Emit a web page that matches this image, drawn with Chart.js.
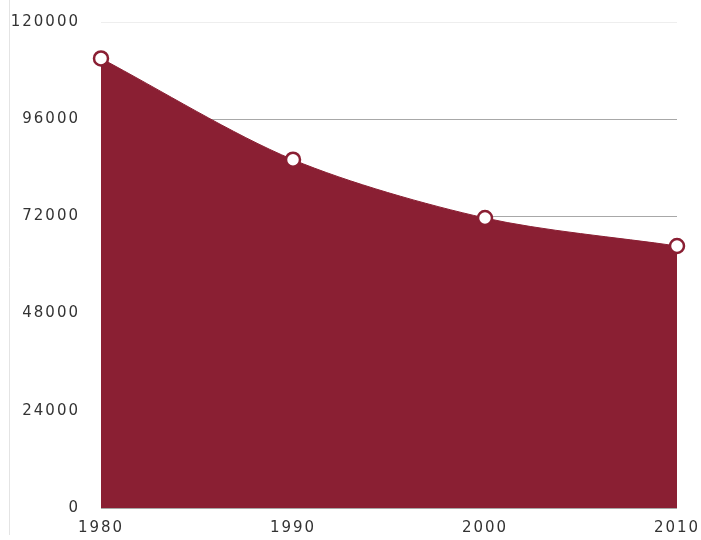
<!DOCTYPE html>
<html>
<head>
<meta charset="utf-8">
<script src="https://cdn.jsdelivr.net/npm/chart.js@4/dist/chart.umd.min.js"></script>
<style>
  html, body { margin: 0; padding: 0; background: #ffffff; }
  #wrap { width: 701px; height: 540px; position: relative; }
</style>
</head>
<body>
<div id="wrap"><canvas id="chart" width="701" height="540"></canvas></div>
<script>
// Population by census year
const years = ['1980', '1990', '2000', '2010'];
const population = [111000, 86000, 71600, 64700];
const yTicks = [0, 24000, 48000, 72000, 96000, 120000];

const fillColor = '#8a1f33';

// wider letter spacing for all axis text
const spacing = {
  id: 'spacing',
  beforeUpdate(chart) { chart.ctx.letterSpacing = '2px'; },
  beforeDraw(chart) { chart.ctx.letterSpacing = '2px'; }
};

// thin vertical rule along the left edge of the figure
const leftRule = {
  id: 'leftRule',
  beforeDraw(chart) {
    const ctx = chart.ctx;
    ctx.save();
    ctx.strokeStyle = '#e4e4e4';
    ctx.lineWidth = 1;
    ctx.beginPath();
    ctx.moveTo(9.5, 0);
    ctx.lineTo(9.5, 535);
    ctx.stroke();
    ctx.restore();
  }
};

new Chart(document.getElementById('chart'), {
  type: 'line',
  data: {
    labels: years,
    datasets: [{
      data: population,
      fill: 'origin',
      backgroundColor: fillColor,
      borderColor: fillColor,
      borderWidth: 1,
      tension: 0.3,
      pointRadius: 7,
      pointBorderWidth: 2.5,
      pointBackgroundColor: '#ffffff',
      pointBorderColor: fillColor
    }]
  },
  options: {
    responsive: false,
    animation: false,
    events: [],
    layout: { padding: { top: 22, right: 24, left: 0, bottom: 0 } },
    plugins: { legend: { display: false }, tooltip: { enabled: false } },
    scales: {
      x: {
        offset: false,
        grid: { display: false, drawTicks: false },
        border: { display: false },
        ticks: {
          padding: 11,
          color: '#333333',
          font: { family: 'DejaVu Sans', size: 15 },
          maxRotation: 0
        },
        afterFit(scale) {
          scale.height = 32;
          scale.paddingLeft = 0;
          scale.paddingRight = 0;
        }
      },
      y: {
        min: 0,
        max: 120000,
        afterBuildTicks(scale) { scale.ticks = yTicks.map(v => ({ value: v })); },
        grid: {
          drawTicks: false,
          color(ctx) { return ctx.tick && ctx.tick.value === 120000 ? '#eeeeee' : '#a8a8a8'; },
          lineWidth: 1
        },
        border: { display: false },
        ticks: {
          padding: 21,
          color: '#333333',
          font: { family: 'DejaVu Sans', size: 15 },
          callback: v => String(v)
        },
        afterFit(scale) {
          scale.width = 101;
          scale.paddingTop = 0;
          scale.paddingBottom = 0;
        }
      }
    }
  },
  plugins: [spacing, leftRule]
});
</script>
</body>
</html>
